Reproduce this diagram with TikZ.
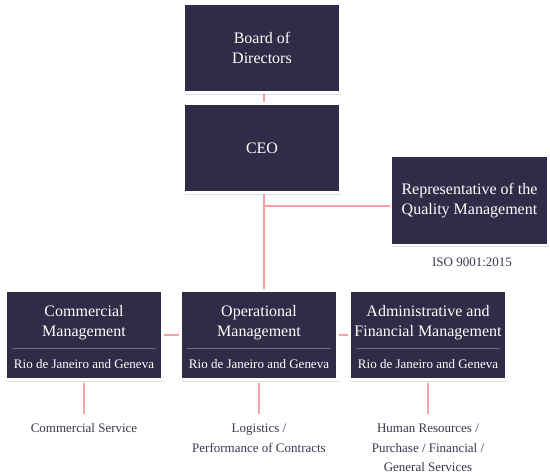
\documentclass[tikz,border=0pt]{standalone}
\usepackage{fontspec}
\setmainfont{Liberation Serif}
\usetikzlibrary{shadows}
\definecolor{boxnavy}{HTML}{302B46}
\definecolor{linkpink}{HTML}{F6A2A5}
\definecolor{notegray}{HTML}{3A3650}
\definecolor{rulegray}{HTML}{6E6A82}
\tikzset{
  unit/.style={fill=boxnavy, draw=white, line width=2.5pt, minimum width=157pt,
    minimum height=89pt, inner sep=0pt, text=white, align=center,
    font=\fontsize{16}{20.5}\selectfont,
    drop shadow={shadow xshift=1pt, shadow yshift=-2pt, fill=black, opacity=0.12}},
  unittitle/.style={text=white, align=center, inner sep=0pt, font=\fontsize{16}{20}\selectfont},
  unitcity/.style={text=white, inner sep=0pt, font=\fontsize{13}{14}\selectfont},
  sep/.style={draw=rulegray, line width=0.8pt},
  link/.style={draw=linkpink, line width=1.8pt},
  note/.style={text=notegray, align=center, anchor=north, inner sep=0pt,
    font=\fontsize{13}{19.5}\selectfont}
}
\begin{document}
\begin{tikzpicture}[x=1pt, y=-1pt]
\useasboundingbox (0,0) rectangle (550,475);

% links behind the boxes
\coordinate (trunk) at (264,148);
\coordinate (qmjoint) at (264,206);
\coordinate (trunkend) at (264,290);
\draw[link] (264,48) -- (trunk);
\draw[link] (trunk) -- (trunkend);
\draw[link] (qmjoint) -- (470,206);
\draw[link] (84,335) -- (428,335);

% top of the chart
\node[unit] (board) at (262,48) {Board of\\Directors};
\node[unit] (ceo) at (262,148) {CEO};
\node[unit] (quality) at (469.5,200.5) {Representative of the\\Quality Management};
\node[text=notegray, font=\fontsize{13}{14}\selectfont] (iso) at (472,262) {ISO 9001:2015};

% managements
\node[unit] (commercial) at (84,335) {};
\node[unit] (operational) at (259,335) {};
\node[unit] (admin) at (428,335) {};

\foreach \n/\t in {commercial/Commercial\\Management,
                   operational/Operational\\Management,
                   admin/Administrative and\\Financial Management}{
  \node[unittitle] (\n-title) at ([yshift=12pt]\n.center) {\t};
  \draw[sep] ([xshift=8pt,yshift=-13pt]\n.west) -- ([xshift=-8pt,yshift=-13pt]\n.east);
  \node[unitcity] (\n-city) at ([yshift=-29pt]\n.center) {Rio de Janeiro and Geneva};
  \coordinate (\n-foot) at ([yshift=-33pt]\n.south);
  \draw[link] ([yshift=-2pt]\n.south) -- (\n-foot);
}

% services
\node[note] (commercial-note) at ([yshift=-10pt]commercial-foot) {Commercial Service};
\node[note] (operational-note) at ([yshift=-10pt]operational-foot) {Logistics /\\Performance of Contracts};
\node[note] (admin-note) at ([yshift=-10pt]admin-foot) {Human Resources /\\Purchase / Financial /\\General Services};

\end{tikzpicture}
\end{document}
